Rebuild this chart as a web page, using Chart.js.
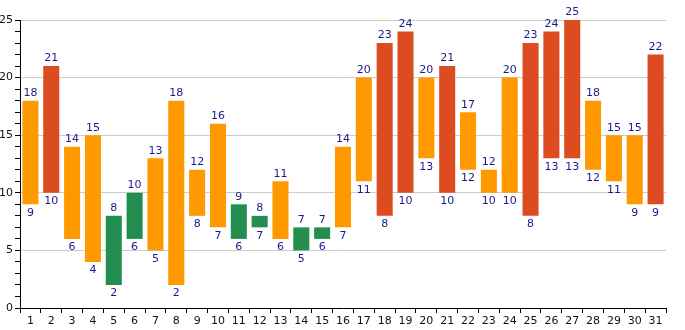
<!DOCTYPE html>
<html><head><meta charset="utf-8">
<script src="https://cdn.jsdelivr.net/npm/chart.js@4"></script>
<style>html,body{margin:0;padding:0;background:#fff}#w{width:685px;height:330px}</style>
</head><body><div id="w"><canvas id="c" width="685" height="330"></canvas></div>
<script>
const days = ["1","2","3","4","5","6","7","8","9","10","11","12","13","14","15","16","17","18","19","20","21","22","23","24","25","26","27","28","29","30","31"];
const lows  = [9,10,6,4,2,6,5,2,8,7,6,7,6,5,6,7,11,8,10,13,10,12,10,10,8,13,13,12,11,9,9];
const highs = [18,21,14,15,8,10,13,18,12,16,9,8,11,7,7,14,20,23,24,20,21,17,12,20,23,24,25,18,15,15,22];
const yTicks = [0,5,10,15,20,25];

const ORANGE = '#FF9900', RED = '#DD4B21', GREEN = '#238E50', LABEL = '#1A1A8C';
const colorFor = h => h >= 21 ? RED : (h <= 10 ? GREEN : ORANGE);

const labelPlugin = {
  id: 'hilo',
  afterDatasetsDraw(chart) {
    const ctx = chart.ctx, x = chart.scales.x, y = chart.scales.y;
    ctx.save();
    ctx.font = '11px "DejaVu Sans"';
    ctx.fillStyle = LABEL;
    ctx.textAlign = 'center';
    days.forEach((d, i) => {
      const px = x.getPixelForValue(i);
      ctx.textBaseline = 'bottom';
      ctx.fillText(String(highs[i]), px, y.getPixelForValue(highs[i]) - 2);
      ctx.textBaseline = 'top';
      ctx.fillText(String(lows[i]), px, y.getPixelForValue(lows[i]) + 3);
    });
    ctx.restore();
  }
};

new Chart(document.getElementById('c'), {
  type: 'bar',
  data: {
    labels: days,
    datasets: [{
      data: days.map((d, i) => [lows[i], highs[i]]),
      backgroundColor: highs.map(colorFor),
      borderWidth: 0,
      barPercentage: 0.77,
      categoryPercentage: 1.0
    }]
  },
  options: {
    responsive: false,
    animation: false,
    layout: { padding: { top: 20, right: 19, left: 0, bottom: 0 } },
    plugins: { legend: { display: false }, tooltip: { enabled: false } },
    scales: {
      x: {
        afterFit(s) { s.height = 22; },
        grid: { drawOnChartArea: false, drawTicks: true, tickLength: 5, tickColor: '#000', offset: true },
        border: { color: '#000', width: 1 },
        ticks: { color: '#111', font: { family: 'DejaVu Sans', size: 11 }, padding: 2, maxRotation: 0, autoSkip: false }
      },
      y: {
        min: 0, max: 25,
        afterFit(s) { s.width = 20; },
        afterBuildTicks(s) {
          const t = [];
          for (let v = 0; v <= 25; v++) t.push({ value: v });
          s.ticks = t;
        },
        grid: {
          color: c => (c.tick && c.tick.value > 0 && yTicks.includes(c.tick.value)) ? '#CCCCCC' : 'rgba(0,0,0,0)',
          tickColor: '#000',
          tickLength: 5,
          drawTicks: true
        },
        border: { color: '#000', width: 1 },
        ticks: {
          color: '#111',
          autoSkip: false,
          font: { family: 'DejaVu Sans', size: 11 },
          padding: 2,
          callback: v => yTicks.includes(v) ? String(v) : ''
        }
      }
    }
  },
  plugins: [labelPlugin]
});
</script>
</body></html>
